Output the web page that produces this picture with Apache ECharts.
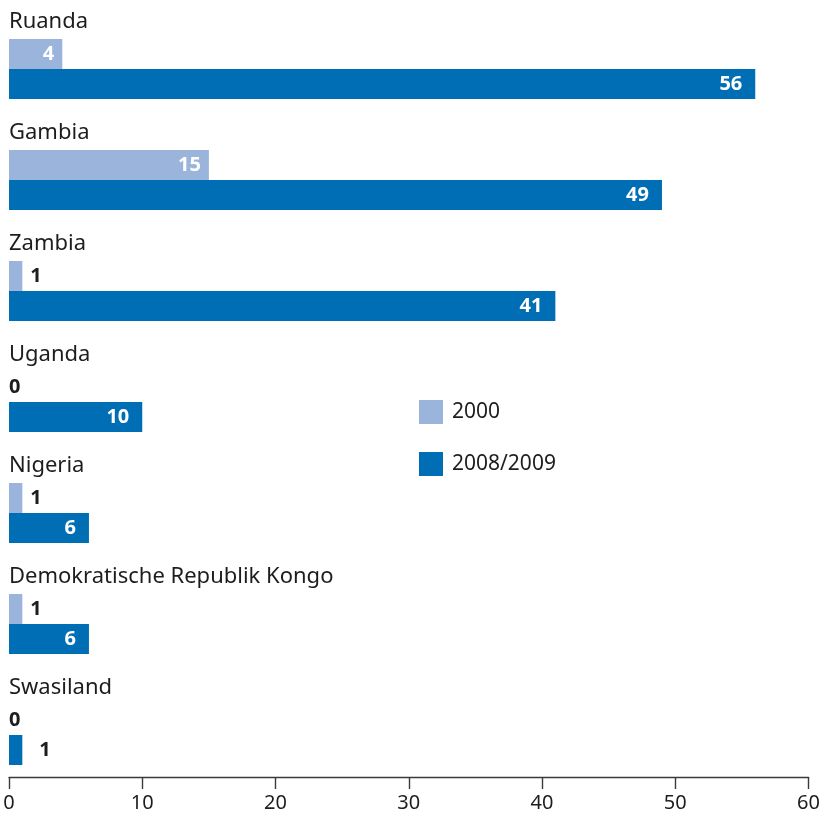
<!DOCTYPE html>
<html>
<head>
<meta charset="utf-8">
<script src="https://cdn.jsdelivr.net/npm/echarts@6/dist/echarts.min.js"></script>
<style>
html,body{margin:0;padding:0;background:#fff;}
#chart{width:823px;height:814px;}
</style>
</head>
<body>
<div id="chart"></div>
<script>
const categories = ["Ruanda","Gambia","Zambia","Uganda","Nigeria","Demokratische Republik Kongo","Swasiland"];
const values2000 = [4,15,1,0,1,1,0];
const values2009 = [56,49,41,10,6,6,1];
const seriesNames = ["2000","2008/2009"];
const xTicks = [0,10,20,30,40,50,60];

const LIGHT = "#9bb4db";
const DARK = "#006eb4";
const TEXT = "#1d1d1b";
const FONT = "Noto Sans";

function labelFor(v, insideDist, outsideDist) {
  if (v >= 4) {
    return {show:true, position:"insideRight", distance:insideDist, color:"#fff", fontWeight:"bold", fontSize:20, fontFamily:FONT};
  }
  return {show:true, position:"right", distance: v === 0 ? 0 : outsideDist, color:TEXT, fontWeight:"bold", fontSize:20, fontFamily:FONT};
}

const chart = echarts.init(document.getElementById("chart"), null, {renderer:"canvas"});
chart.setOption({
  animation:false,
  backgroundColor:"#fff",
  grid:{left:9, right:12, top:0, bottom:37, containLabel:false},
  legend:{
    data:seriesNames,
    orient:"vertical",
    left:419, top:400, padding:0,
    itemWidth:24, itemHeight:24, itemGap:28,
    icon:"rect",
    textStyle:{fontSize:21, color:TEXT, fontFamily:FONT, padding:[0,0,0,4]}
  },
  xAxis:{
    type:"value", min:xTicks[0], max:xTicks[xTicks.length-1], interval:10,
    splitLine:{show:false},
    axisLine:{show:true, lineStyle:{color:"#3a3a3a", width:1.4}},
    axisTick:{show:true, length:12, lineStyle:{color:"#3a3a3a", width:1.4}},
    axisLabel:{fontSize:20, color:TEXT, fontFamily:FONT, margin:16}
  },
  yAxis:{
    type:"category", data:categories, inverse:true,
    axisLine:{show:false}, axisTick:{show:false}, axisLabel:{show:false}, splitLine:{show:false}
  },
  series:[
    {
      name:"label", type:"bar", barWidth:27, barGap:"0%",
      data:categories.map(()=>0),
      itemStyle:{color:"rgba(0,0,0,0)"},
      label:{show:true, position:"insideLeft", distance:0, offset:[0,-4],
        formatter:(p)=>categories[p.dataIndex], color:TEXT, fontSize:22, fontFamily:FONT},
      silent:true
    },
    {
      name:seriesNames[0], type:"bar", barWidth:30, barGap:"0%",
      itemStyle:{color:LIGHT},
      data:values2000.map(v=>({value:v, label:labelFor(v,8,8)}))
    },
    {
      name:seriesNames[1], type:"bar", barWidth:30, barGap:"0%",
      itemStyle:{color:DARK},
      data:values2009.map(v=>({value:v, label:labelFor(v,13,17)}))
    }
  ]
});
</script>
</body>
</html>
